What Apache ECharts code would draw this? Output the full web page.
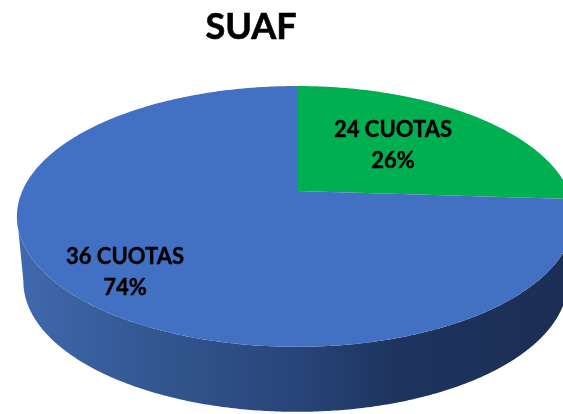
<!DOCTYPE html>
<html>
<head>
<meta charset="utf-8">
<style>html,body{margin:0;padding:0;background:#fff}#c{width:563px;height:414px}</style>
<script src="https://cdn.jsdelivr.net/npm/echarts@6/dist/echarts.min.js"></script>
</head>
<body>
<div id="c"></div>
<script>
const chartTitle = 'SUAF';
const categories = ['24 CUOTAS', '36 CUOTAS'];
const shares = [26, 74];
const sliceColors = ['#00B050', '#4270C2'];

const total = shares.reduce((a, b) => a + b, 0);
const P = { cx: 297, leftK: 274.7, rightK: 271.8, apexY: 191, a: 88.2, c: -0.195, depth: 65, baseScale: 0.977 };
const labelAnchors = [[393, 145], [125, 272.5]];

function project(deg, scale, dy) {
  const t = deg * Math.PI / 180;
  const u = Math.sin(t), v = -Math.cos(t);
  const w = 1 + P.c * v;
  const k = (u > 0 ? P.rightK : P.leftK) * scale;
  return [P.cx + k * u / w, (P.a * v + P.apexY) / w + dy];
}
function arc(from, to, scale, dy) {
  const pts = [];
  const n = Math.max(2, Math.ceil(Math.abs(to - from) * 2));
  for (let i = 0; i <= n; i++) pts.push(project(from + (to - from) * i / n, scale, dy));
  return pts;
}

const chart = echarts.init(document.getElementById('c'), null, { renderer: 'canvas' });
chart.setOption({
  animation: false,
  backgroundColor: '#ffffff',
  title: {
    text: chartTitle, left: 246, top: 4, textAlign: 'center',
    textStyle: { fontFamily: 'Lato', fontWeight: 'bold', fontSize: 36, color: '#000', textBorderColor: '#000', textBorderWidth: 0.6 }
  },
  series: [{
    type: 'custom',
    coordinateSystem: 'none',
    data: shares.map((s, i) => ({ value: [s, i], name: categories[i] })),
    renderItem(params, api) {
      const val = api.value(0), idx = api.value(1);
      let before = 0;
      for (let i = 0; i < idx; i++) before += shares[i];
      const start = before / total * 360, end = (before + val) / total * 360;
      const children = [];
      // the side wall is only visible along the front of the pie
      const wallFrom = Math.max(start, 101), wallTo = Math.min(end, 259);
      if (wallTo > wallFrom) {
        const top = arc(wallFrom, wallTo, 1, 0);
        const base = arc(wallTo, wallFrom, P.baseScale, P.depth);
        children.push({
          type: 'polygon',
          shape: { points: top.concat(base) },
          style: {
            fill: new echarts.graphic.LinearGradient(0, 0, 1, 0, [
              { offset: 0, color: '#4169AF' },
              { offset: 0.25, color: '#335690' },
              { offset: 0.5, color: '#28457A' },
              { offset: 0.68, color: '#1E345E' },
              { offset: 1, color: '#1B2E54' }
            ])
          }
        });
      }
      const pts = [[P.cx, P.apexY]].concat(arc(start, end, 1, 0));
      children.push({
        type: 'polygon',
        shape: { points: pts },
        style: { fill: sliceColors[idx] }
      });
      children.push({
        type: 'text',
        x: labelAnchors[idx][0], y: labelAnchors[idx][1],
        style: {
          text: categories[idx] + '\n' + val + '%',
          align: 'center', verticalAlign: 'middle',
          fontFamily: 'Lato', fontWeight: 'bold', fontSize: 22, lineHeight: 31,
          fill: '#000', stroke: '#000', lineWidth: 0.4
        }
      });
      return { type: 'group', children };
    }
  }]
});
</script>
</body>
</html>
